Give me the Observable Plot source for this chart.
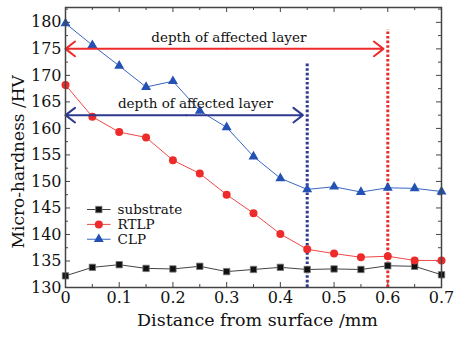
<!DOCTYPE html>
<html>
<head>
<meta charset="utf-8">
<script src="https://cdn.jsdelivr.net/npm/d3@7"></script>
<script src="https://cdn.jsdelivr.net/npm/@observablehq/plot@0.6"></script>
<style>
  body { margin: 0; background: #fff; }
  #chart svg { display: block; }
  #chart svg, #chart svg text { font-family: 'DejaVu Serif', 'Liberation Serif', serif !important; }
</style>
</head>
<body>
<div id="chart"></div>
<script>
// ---- data ----
const distance = [0, 0.05, 0.1, 0.15, 0.2, 0.25, 0.3, 0.35, 0.4, 0.45, 0.5, 0.55, 0.6, 0.65, 0.7];
const substrate = [132.2, 133.8, 134.3, 133.6, 133.5, 134.0, 133.0, 133.4, 133.8, 133.4, 133.5, 133.4, 134.1, 134.0, 132.4];
const rtlp = [168.2, 162.2, 159.3, 158.3, 154.0, 151.5, 147.5, 144.0, 140.1, 137.2, 136.4, 135.7, 135.9, 135.1, 135.1];
const clp = [179.8, 175.7, 171.8, 167.8, 168.9, 163.3, 160.2, 154.7, 150.6, 148.5, 149.0, 148.0, 148.8, 148.7, 148.1];
const seriesNames = ["substrate", "RTLP", "CLP"];
const xTicks = [0, 0.1, 0.2, 0.3, 0.4, 0.5, 0.6, 0.7];
const xMinor = [0.05, 0.15, 0.25, 0.35, 0.45, 0.55, 0.65];
const yTicks = [130, 135, 140, 145, 150, 155, 160, 165, 170, 175, 180];
const yMinor = [132.5, 137.5, 142.5, 147.5, 152.5, 157.5, 162.5, 167.5, 172.5, 177.5, 182.5];
const annotationLabel = "depth of affected layer";
const rtlpDepth = 0.6, clpDepth = 0.45;
const rtlpArrowY = 175, clpArrowY = 162.5;
const rtlpLineTop = 178.6, clpLineTop = 172.4;
const xLabel = "Distance from surface /mm";
const yLabel = "Micro-hardness /HV";

// ---- styles ----
const FONT = "'DejaVu Serif', 'Liberation Serif', serif";
const colors = {substrate: "#111111", RTLP: "#ee2b2b", CLP: "#2452b4"};
const lineColors = {substrate: "#444444", RTLP: "#f04848", CLP: "#3a66c4"};
const symbols = {substrate: "square", RTLP: "circle", CLP: "triangle"};
const sizes = {substrate: 3.6, RTLP: 4, CLP: 3.7};
const darkBlue = "#2d3a8f";
const red = "#ee2b2b";

const rows = [];
distance.forEach((d, i) => {
  rows.push({series: "substrate", x: d, y: substrate[i]});
  rows.push({series: "RTLP", x: d, y: rtlp[i]});
  rows.push({series: "CLP", x: d, y: clp[i]});
});

// legend layout (in data units, inside the frame)
const legendRows = seriesNames.map((s, i) => ({series: s, y: 144.7 - i * 2.8}));
const legendLine = [0.040, 0.084], legendMarkerX = 0.062, legendTextX = 0.097;

const W = 455, H = 340, mL = 65, mR = 14, mT = 7, mB = 53;
const fw = W - mL - mR, fh = H - mT - mB;

const marks = [];
const tickMarks = (vals, len) => [
  Plot.ruleX(vals, {x: d => d, insetTop: fh - len, stroke: "#444", strokeWidth: 1}),
  Plot.ruleX(vals, {x: d => d, insetBottom: fh - len, stroke: "#444", strokeWidth: 1})
];
const tickMarksY = (vals, len) => [
  Plot.ruleY(vals, {y: d => d, insetRight: fw - len, stroke: "#444", strokeWidth: 1}),
  Plot.ruleY(vals, {y: d => d, insetLeft: fw - len, stroke: "#444", strokeWidth: 1})
];
marks.push(...tickMarks(xTicks, 5), ...tickMarks(xMinor, 3), ...tickMarksY(yTicks, 5), ...tickMarksY(yMinor.filter(v => v < 182.8), 3));

marks.push(Plot.axisX(xTicks, {tickSize: 0, tickPadding: 4, label: null, fontSize: 16, fontFamily: FONT, fill: "#111", tickFormat: d => String(d)}));
marks.push(Plot.axisY(yTicks, {tickSize: 0, tickPadding: 4, label: null, fontSize: 16, fontFamily: FONT, fill: "#111"}));

marks.push(Plot.ruleX([clpDepth], {x: d => d, y1: 130, y2: clpLineTop, stroke: darkBlue, strokeWidth: 3, strokeDasharray: "2.6,2"}));
marks.push(Plot.ruleX([rtlpDepth], {x: d => d, y1: 130, y2: rtlpLineTop, stroke: red, strokeWidth: 3, strokeDasharray: "2.6,2"}));

for (const s of seriesNames) {
  const data = rows.filter(r => r.series === s);
  marks.push(Plot.line(data, {x: "x", y: "y", stroke: lineColors[s], strokeWidth: 1}));
  marks.push(Plot.dot(data, {x: "x", y: "y", symbol: symbols[s], r: sizes[s], fill: colors[s], stroke: s === "substrate" ? "#777" : "none", strokeWidth: 0.8}));
}

const arrows = [
  {x1: rtlpDepth / 2, x2: 0, y: rtlpArrowY, c: red},
  {x1: rtlpDepth / 2, x2: rtlpDepth - 0.008, y: rtlpArrowY, c: red},
  {x1: clpDepth / 2, x2: 0, y: clpArrowY, c: darkBlue},
  {x1: clpDepth / 2, x2: clpDepth - 0.008, y: clpArrowY, c: darkBlue}
];
marks.push(Plot.arrow(arrows, {x1: "x1", x2: "x2", y1: "y", y2: "y", stroke: "c", strokeWidth: 2, headLength: 9, headAngle: 75}));

marks.push(Plot.text([annotationLabel], {x: 0.304, y: rtlpArrowY, dy: -11, text: d => d, fontFamily: FONT, fontSize: 13.5, fill: "#111"}));
marks.push(Plot.text([annotationLabel], {x: 0.242, y: clpArrowY, dy: -11, text: d => d, fontFamily: FONT, fontSize: 13.5, fill: "#111"}));

// legend
for (const row of legendRows) {
  const s = row.series;
  marks.push(Plot.link([row], {x1: legendLine[0], x2: legendLine[1], y1: "y", y2: "y", stroke: lineColors[s], strokeWidth: 1}));
  marks.push(Plot.dot([row], {x: legendMarkerX, y: "y", symbol: symbols[s], r: sizes[s], fill: colors[s], stroke: s === "substrate" ? "#777" : "none", strokeWidth: 0.8}));
  marks.push(Plot.text([row], {x: legendTextX, y: "y", text: "series", textAnchor: "start", fill: "#111", fontSize: 13.5, fontFamily: FONT}));
}

// axis titles (placed relative to the frame)
marks.push(Plot.text([xLabel], {frameAnchor: "bottom", dx: 4, dy: 38, text: d => d, fontFamily: FONT, fontSize: 17.5, fill: "#111"}));
marks.push(Plot.text([yLabel], {x: -0.0877, y: 153.7, rotate: -90, text: d => d, fontFamily: FONT, fontSize: 17, fill: "#111"}));

marks.push(Plot.frame({stroke: "#444", strokeWidth: 1.5}));

const chart = Plot.plot({
  width: W, height: H,
  marginLeft: mL, marginRight: mR, marginTop: mT, marginBottom: mB,
  x: {domain: [0, 0.7]},
  y: {domain: [130, 182.8]},
  style: {fontFamily: FONT, background: "#fff"},
  marks
});
document.getElementById("chart").appendChild(chart);
</script>
</body>
</html>
